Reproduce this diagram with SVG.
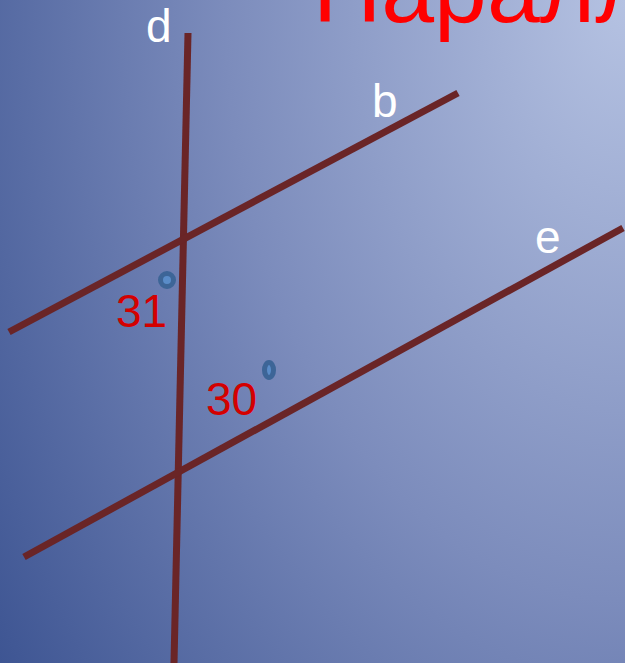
<svg xmlns="http://www.w3.org/2000/svg" width="625" height="663" viewBox="0 0 625 663">
<defs>
<radialGradient id="bg" gradientUnits="userSpaceOnUse" cx="625" cy="0" r="800" gradientTransform="translate(625 0) scale(1 1.5) translate(-625 0)">
<stop offset="0" stop-color="#b5c2e2"/>
<stop offset="0.5" stop-color="#7c8cbc"/>
<stop offset="1" stop-color="#38508f"/>
</radialGradient>
<style>
.ln{stroke:#6a2527;stroke-width:7;fill:none}
.lbl{font-family:"Liberation Sans",Arial,sans-serif;fill:#ffffff;font-size:46px}
.num{font-family:"Liberation Sans",Arial,sans-serif;fill:#d40000;font-size:46px}
.deg{fill:#5a8cc8;stroke:#3d6597;stroke-width:5}
.title{font-family:"Liberation Sans",Arial,sans-serif;fill:#ff0000;font-size:95px}
</style>
</defs>
<rect width="625" height="663" fill="url(#bg)"/>
<text class="title" x="313" y="22">Паралл</text>
<g id="connectors">
<line id="line-d" class="ln" x1="188" y1="33" x2="174" y2="663"/>
<line id="line-b" class="ln" x1="9" y1="332" x2="458" y2="93"/>
<line id="line-e" class="ln" x1="24" y1="557" x2="623" y2="228"/>
</g>
<g id="label-d"><text class="lbl" x="146" y="42">d</text></g>
<g id="label-b"><text class="lbl" x="372" y="117">b</text></g>
<g id="label-e"><text class="lbl" x="535" y="253">e</text></g>
<g id="angle-31">
<text class="num" x="116" y="327">31</text>
<circle class="deg" cx="167" cy="280" r="6.5"/>
</g>
<g id="angle-30">
<text class="num" x="206" y="415">30</text>
<ellipse class="deg" cx="269" cy="370" rx="4.5" ry="7.5"/>
</g>
</svg>
